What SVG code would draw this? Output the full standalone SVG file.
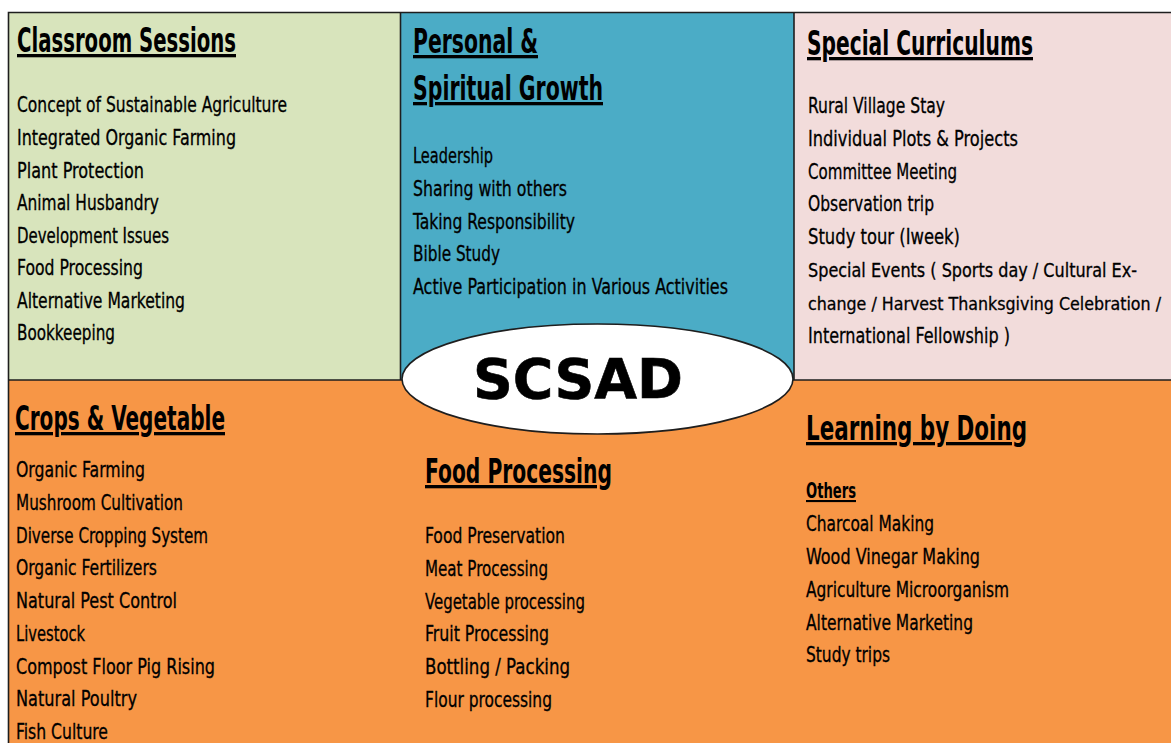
<svg xmlns="http://www.w3.org/2000/svg" width="1171" height="743" viewBox="0 0 1171 743">
  <style>
    .edge { stroke: #1e1e1e; stroke-width: 1.6; fill: none; }
    .title { font-family: "Liberation Sans Narrow", "DejaVu Sans Condensed", sans-serif; font-size: 33px; font-weight: bold; fill: #000; text-decoration: underline; }
    .item { font-family: "Liberation Sans Narrow", "DejaVu Sans Condensed", sans-serif; font-size: 21px; fill: #000; stroke: #000; stroke-width: 0.3; }
    .item.tight { font-size: 19.3px; }
    .item.tighter { font-size: 17.8px; }
    .sub { font-family: "Liberation Sans Narrow", "DejaVu Sans Condensed", sans-serif; font-size: 21px; font-weight: bold; fill: #000; text-decoration: underline; }
    .hub { font-family: "DejaVu Sans", "Liberation Sans", sans-serif; font-size: 55px; font-weight: bold; fill: #000; stroke: #000; stroke-width: 0.6; }
  </style>

  <rect width="1171" height="743" fill="#ffffff"/>

  <!-- Bottom band shared by the three lower sections -->
  <g id="bottom-band">
    <rect x="8.5" y="380" width="1162.5" height="363" fill="#F79646"/>
  </g>

  <!-- Classroom Sessions -->
  <g id="classroom-sessions">
    <rect x="8.5" y="12.5" width="392" height="367.5" fill="#D8E4BC"/>
    <text class="title" x="17" y="52" textLength="219" lengthAdjust="spacingAndGlyphs">Classroom Sessions</text>
    <text class="item" x="17" y="112" textLength="270" lengthAdjust="spacingAndGlyphs">Concept of Sustainable Agriculture</text>
    <text class="item" x="17" y="145" textLength="219" lengthAdjust="spacingAndGlyphs">Integrated Organic Farming</text>
    <text class="item" x="17" y="178" textLength="127" lengthAdjust="spacingAndGlyphs">Plant Protection</text>
    <text class="item" x="17" y="210" textLength="142" lengthAdjust="spacingAndGlyphs">Animal Husbandry</text>
    <text class="item" x="17" y="243" textLength="152" lengthAdjust="spacingAndGlyphs">Development Issues</text>
    <text class="item" x="17" y="275" textLength="126" lengthAdjust="spacingAndGlyphs">Food Processing</text>
    <text class="item" x="17" y="308" textLength="168" lengthAdjust="spacingAndGlyphs">Alternative Marketing</text>
    <text class="item" x="17" y="340" textLength="98" lengthAdjust="spacingAndGlyphs">Bookkeeping</text>
  </g>

  <!-- Personal & Spiritual Growth -->
  <g id="personal-growth">
    <rect x="400.5" y="12.5" width="393.5" height="367.5" fill="#4BACC6"/>
    <text class="title" x="413" y="53" textLength="125" lengthAdjust="spacingAndGlyphs">Personal &amp;</text>
    <text class="title" x="413" y="100" textLength="190" lengthAdjust="spacingAndGlyphs">Spiritual Growth</text>
    <text class="item" x="413" y="163" textLength="80" lengthAdjust="spacingAndGlyphs">Leadership</text>
    <text class="item" x="413" y="196" textLength="154" lengthAdjust="spacingAndGlyphs">Sharing with others</text>
    <text class="item" x="413" y="229" textLength="162" lengthAdjust="spacingAndGlyphs">Taking Responsibility</text>
    <text class="item" x="413" y="261" textLength="87" lengthAdjust="spacingAndGlyphs">Bible Study</text>
    <text class="item" x="413" y="294" textLength="315" lengthAdjust="spacingAndGlyphs">Active Participation in Various Activities</text>
  </g>

  <!-- Special Curriculums -->
  <g id="special-curriculums">
    <rect x="794" y="12.5" width="377" height="367.5" fill="#F2DCDB"/>
    <text class="title" x="807" y="55" textLength="226" lengthAdjust="spacingAndGlyphs">Special Curriculums</text>
    <text class="item" x="808" y="113" textLength="137" lengthAdjust="spacingAndGlyphs">Rural Village Stay</text>
    <text class="item" x="808" y="146" textLength="210" lengthAdjust="spacingAndGlyphs">Individual Plots &amp; Projects</text>
    <text class="item" x="808" y="179" textLength="149" lengthAdjust="spacingAndGlyphs">Committee Meeting</text>
    <text class="item" x="808" y="211" textLength="126" lengthAdjust="spacingAndGlyphs">Observation trip</text>
    <text class="item" x="808" y="244" textLength="152" lengthAdjust="spacingAndGlyphs">Study tour (Iweek)</text>
    <text class="item tight" x="808" y="277" textLength="329" lengthAdjust="spacingAndGlyphs">Special Events ( Sports day / Cultural Ex-</text>
    <text class="item tighter" x="808" y="310" textLength="353" lengthAdjust="spacingAndGlyphs">change / Harvest Thanksgiving Celebration /</text>
    <text class="item" x="808" y="343" textLength="202" lengthAdjust="spacingAndGlyphs">International Fellowship )</text>
  </g>

  <!-- Panel outlines: outer top/left edges, column dividers and the band boundary -->
  <g id="outlines">
    <path class="edge" d="M1171 12.5 H8.5 V743"/>
    <path class="edge" d="M400.5 12.5 V380 M794 12.5 V380 M8.5 380 H1171"/>
  </g>

  <!-- Crops & Vegetable -->
  <g id="crops-vegetable">
    <text class="title" x="15" y="430" textLength="210" lengthAdjust="spacingAndGlyphs">Crops &amp; Vegetable</text>
    <text class="item" x="16" y="477" textLength="129" lengthAdjust="spacingAndGlyphs">Organic Farming</text>
    <text class="item" x="16" y="510" textLength="167" lengthAdjust="spacingAndGlyphs">Mushroom Cultivation</text>
    <text class="item" x="16" y="543" textLength="192" lengthAdjust="spacingAndGlyphs">Diverse Cropping System</text>
    <text class="item" x="16" y="575" textLength="141" lengthAdjust="spacingAndGlyphs">Organic Fertilizers</text>
    <text class="item" x="16" y="608" textLength="161" lengthAdjust="spacingAndGlyphs">Natural Pest Control</text>
    <text class="item" x="16" y="641" textLength="69" lengthAdjust="spacingAndGlyphs">Livestock</text>
    <text class="item" x="16" y="674" textLength="199" lengthAdjust="spacingAndGlyphs">Compost Floor Pig Rising</text>
    <text class="item" x="16" y="706" textLength="121" lengthAdjust="spacingAndGlyphs">Natural Poultry</text>
    <text class="item" x="16" y="739" textLength="92" lengthAdjust="spacingAndGlyphs">Fish Culture</text>
  </g>

  <!-- Food Processing -->
  <g id="food-processing">
    <text class="title" x="425" y="483" textLength="187" lengthAdjust="spacingAndGlyphs">Food Processing</text>
    <text class="item" x="425" y="543" textLength="140" lengthAdjust="spacingAndGlyphs">Food Preservation</text>
    <text class="item" x="425" y="576" textLength="123" lengthAdjust="spacingAndGlyphs">Meat Processing</text>
    <text class="item" x="425" y="609" textLength="160" lengthAdjust="spacingAndGlyphs">Vegetable processing</text>
    <text class="item" x="425" y="641" textLength="124" lengthAdjust="spacingAndGlyphs">Fruit Processing</text>
    <text class="item" x="425" y="674" textLength="145" lengthAdjust="spacingAndGlyphs">Bottling / Packing</text>
    <text class="item" x="425" y="707" textLength="127" lengthAdjust="spacingAndGlyphs">Flour processing</text>
  </g>

  <!-- Learning by Doing -->
  <g id="learning-by-doing">
    <text class="title" x="806" y="440" textLength="221" lengthAdjust="spacingAndGlyphs">Learning by Doing</text>
    <text class="sub" x="806" y="498" textLength="50" lengthAdjust="spacingAndGlyphs">Others</text>
    <text class="item" x="806" y="531" textLength="128" lengthAdjust="spacingAndGlyphs">Charcoal Making</text>
    <text class="item" x="806" y="564" textLength="174" lengthAdjust="spacingAndGlyphs">Wood Vinegar Making</text>
    <text class="item" x="806" y="597" textLength="203" lengthAdjust="spacingAndGlyphs">Agriculture Microorganism</text>
    <text class="item" x="806" y="630" textLength="167" lengthAdjust="spacingAndGlyphs">Alternative Marketing</text>
    <text class="item" x="806" y="662" textLength="84" lengthAdjust="spacingAndGlyphs">Study trips</text>
  </g>

  <!-- Central hub -->
  <g id="scsad">
    <ellipse cx="597.5" cy="379" rx="195.5" ry="55" fill="#ffffff" stroke="#1e1e1e" stroke-width="1.6"/>
    <text class="hub" x="473" y="398" textLength="210" lengthAdjust="spacingAndGlyphs">SCSAD</text>
  </g>

  <g id="connectors"/>
</svg>
